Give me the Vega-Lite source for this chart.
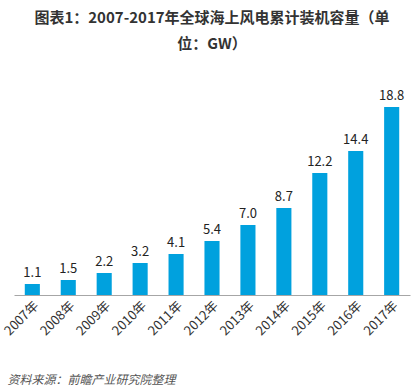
{
  "$schema": "https://vega.github.io/schema/vega-lite/v6.json",
  "autosize": "none",
  "width": 396,
  "height": 200,
  "padding": {"left": 14, "top": 95, "right": 8, "bottom": 97},
  "background": "white",
  "title": {
    "text": ["图表1：2007-2017年全球海上风电累计装机容量（单", "位：GW）"],
    "font": "Noto Sans CJK SC",
    "fontSize": 15,
    "fontWeight": "bold",
    "color": "#333333",
    "anchor": "middle",
    "frame": "group",
    "offset": 38,
    "lineHeight": 26
  },
  "data": {
    "values": [
      {"year": "2007年", "value": 1.1},
      {"year": "2008年", "value": 1.5},
      {"year": "2009年", "value": 2.2},
      {"year": "2010年", "value": 3.2},
      {"year": "2011年", "value": 4.1},
      {"year": "2012年", "value": 5.4},
      {"year": "2013年", "value": 7.0},
      {"year": "2014年", "value": 8.7},
      {"year": "2015年", "value": 12.2},
      {"year": "2016年", "value": 14.4},
      {"year": "2017年", "value": 18.8}
    ]
  },
  "config": {"view": {"stroke": null}},
  "encoding": {
    "x": {
      "field": "year", "type": "nominal", "sort": null,
      "axis": {
        "title": "资料来源：前瞻产业研究院整理",
        "titleFont": "Noto Sans CJK SC",
        "titleFontSize": 12,
        "titleFontStyle": "italic",
        "titleFontWeight": "normal",
        "titleColor": "#555555",
        "titleAnchor": "start",
        "titleAlign": "left",
        "titleBaseline": "alphabetic",
        "titleX": -7,
        "titleY": 88,
        "labelAngle": -45,
        "labelAlign": "right",
        "labelBaseline": "top",
        "labelFont": "Noto Sans CJK SC",
        "labelFontSize": 13,
        "labelColor": "#333333",
        "labelPadding": 4,
        "ticks": false,
        "domainColor": "#a6a6a6",
        "domainWidth": 1
      },
      "scale": {"paddingInner": 0.58, "paddingOuter": 0.3}
    },
    "y": {
      "field": "value", "type": "quantitative",
      "scale": {"domain": [0, 20]},
      "axis": null
    }
  },
  "layer": [
    {"mark": {"type": "bar", "color": "#00A1DE"}},
    {
      "mark": {"type": "text", "dy": -11, "font": "Noto Sans CJK SC", "fontSize": 13, "color": "#222222"},
      "encoding": {"text": {"field": "value", "type": "quantitative", "format": ".1f"}}
    }
  ]
}
